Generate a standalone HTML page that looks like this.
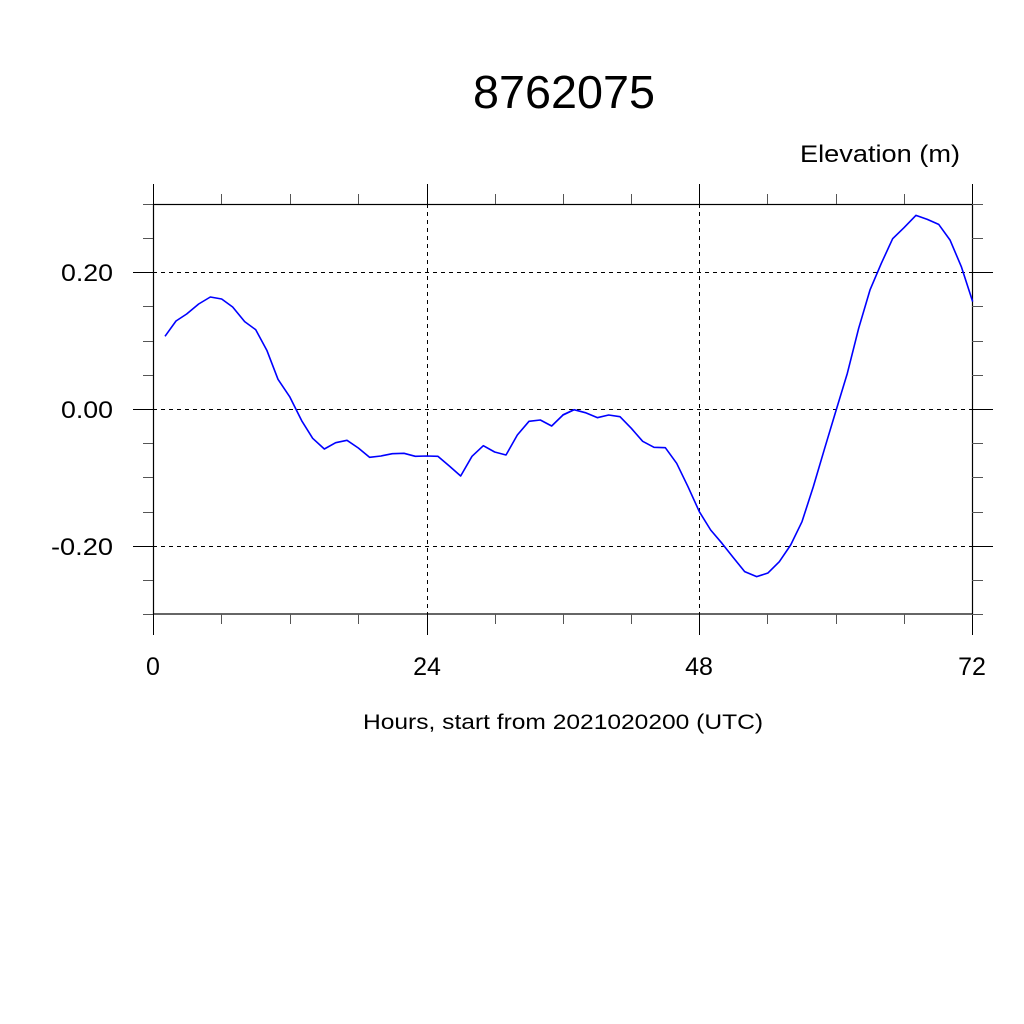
<!DOCTYPE html>
<html><head><meta charset="utf-8"><style>html,body{margin:0;padding:0;background:#fff}svg{display:block}</style></head>
<body>
<svg width="1024" height="1024" viewBox="0 0 1024 1024" xmlns="http://www.w3.org/2000/svg" font-family="Liberation Sans, Arial, sans-serif">
<rect width="1024" height="1024" fill="#fff"/>
<text x="564" y="108" font-size="46" text-anchor="middle" textLength="182" lengthAdjust="spacingAndGlyphs">8762075</text>
<text x="960" y="162" font-size="24" text-anchor="end" textLength="160" lengthAdjust="spacingAndGlyphs">Elevation (m)</text>
<!-- grid -->
<g stroke="#000" stroke-width="1" stroke-dasharray="4,4" fill="none">
<line x1="153" y1="272.5" x2="972" y2="272.5"/>
<line x1="153" y1="409.5" x2="972" y2="409.5"/>
<line x1="153" y1="546.5" x2="972" y2="546.5"/>
<line x1="427.5" y1="204" x2="427.5" y2="614"/>
<line x1="699.5" y1="204" x2="699.5" y2="614"/>
</g>
<!-- frame -->
<rect x="153.5" y="204.5" width="819" height="409.5" fill="none" stroke="#000" stroke-width="1.2"/>
<g stroke="#000" stroke-width="1">
<!-- major x ticks -->
<line x1="153.5" y1="184" x2="153.5" y2="204"/><line x1="427.5" y1="184" x2="427.5" y2="204"/><line x1="699.5" y1="184" x2="699.5" y2="204"/><line x1="972.5" y1="184" x2="972.5" y2="204"/>
<line x1="153.5" y1="614" x2="153.5" y2="635"/><line x1="427.5" y1="614" x2="427.5" y2="635"/><line x1="699.5" y1="614" x2="699.5" y2="635"/><line x1="972.5" y1="614" x2="972.5" y2="635"/>
<!-- minor x ticks -->
<g stroke="#555">
<line x1="221.5" y1="194" x2="221.5" y2="204"/><line x1="290.5" y1="194" x2="290.5" y2="204"/><line x1="358.5" y1="194" x2="358.5" y2="204"/>
<line x1="495.5" y1="194" x2="495.5" y2="204"/><line x1="563.5" y1="194" x2="563.5" y2="204"/><line x1="631.5" y1="194" x2="631.5" y2="204"/>
<line x1="767.5" y1="194" x2="767.5" y2="204"/><line x1="836.5" y1="194" x2="836.5" y2="204"/><line x1="904.5" y1="194" x2="904.5" y2="204"/>
<line x1="221.5" y1="614" x2="221.5" y2="624"/><line x1="290.5" y1="614" x2="290.5" y2="624"/><line x1="358.5" y1="614" x2="358.5" y2="624"/>
<line x1="495.5" y1="614" x2="495.5" y2="624"/><line x1="563.5" y1="614" x2="563.5" y2="624"/><line x1="631.5" y1="614" x2="631.5" y2="624"/>
<line x1="767.5" y1="614" x2="767.5" y2="624"/><line x1="836.5" y1="614" x2="836.5" y2="624"/><line x1="904.5" y1="614" x2="904.5" y2="624"/>
<!-- minor y ticks -->
<line x1="143" y1="204.5" x2="153" y2="204.5"/><line x1="143" y1="238.5" x2="153" y2="238.5"/><line x1="143" y1="306.5" x2="153" y2="306.5"/><line x1="143" y1="341.5" x2="153" y2="341.5"/><line x1="143" y1="375.5" x2="153" y2="375.5"/><line x1="143" y1="443.5" x2="153" y2="443.5"/><line x1="143" y1="477.5" x2="153" y2="477.5"/><line x1="143" y1="512.5" x2="153" y2="512.5"/><line x1="143" y1="580.5" x2="153" y2="580.5"/><line x1="143" y1="614.5" x2="153" y2="614.5"/>
<line x1="972" y1="204.5" x2="983" y2="204.5"/><line x1="972" y1="238.5" x2="983" y2="238.5"/><line x1="972" y1="306.5" x2="983" y2="306.5"/><line x1="972" y1="341.5" x2="983" y2="341.5"/><line x1="972" y1="375.5" x2="983" y2="375.5"/><line x1="972" y1="443.5" x2="983" y2="443.5"/><line x1="972" y1="477.5" x2="983" y2="477.5"/><line x1="972" y1="512.5" x2="983" y2="512.5"/><line x1="972" y1="580.5" x2="983" y2="580.5"/><line x1="972" y1="614.5" x2="983" y2="614.5"/>
</g>
<!-- major y ticks -->
<line x1="133" y1="272.5" x2="153" y2="272.5"/><line x1="133" y1="409.5" x2="153" y2="409.5"/><line x1="133" y1="546.5" x2="153" y2="546.5"/>
<line x1="972" y1="272.5" x2="993" y2="272.5"/><line x1="972" y1="409.5" x2="993" y2="409.5"/><line x1="972" y1="546.5" x2="993" y2="546.5"/>
</g>
<!-- y labels -->
<g font-size="24" text-anchor="end">
<text x="113" y="281" textLength="52" lengthAdjust="spacingAndGlyphs">0.20</text>
<text x="113" y="418" textLength="52" lengthAdjust="spacingAndGlyphs">0.00</text>
<text x="113" y="555" textLength="62" lengthAdjust="spacingAndGlyphs">-0.20</text>
</g>
<g font-size="25" text-anchor="middle">
<text x="153" y="675">0</text><text x="427" y="675">24</text><text x="699" y="675">48</text><text x="972" y="675">72</text>
</g>
<text x="563" y="729" font-size="21" text-anchor="middle" textLength="400" lengthAdjust="spacingAndGlyphs">Hours, start from 2021020200 (UTC)</text>
<!-- series -->
<g fill="none" stroke="#0000ff" stroke-width="1.6" stroke-linejoin="round">
<g transform="translate(140,180) scale(0.33333)">
<polyline vector-effect="non-scaling-stroke" points="75,469 108,423 140,402 176,372 211,351 245,357 278,381 314,425 347,449 381,512 414,598 449,650 485,722 518,775 553,807 587,788 621,781 655,804 689,832 723,828 757,821 792,820 826,829 860,828 894,829 928,858 962,888 996,829 1030,797 1064,816 1098,825 1132,765 1167,724 1201,720 1235,738 1269,705 1303,689"/>
</g>
<g transform="translate(560,180) scale(0.33333)">
<polyline vector-effect="non-scaling-stroke" points="8,705 42,689 76,698 112,713 146,705 180,710 214,745 248,784 282,802 316,803 350,850 384,920 418,995 452,1050 486,1090 520,1133 554,1175 590,1190 624,1179 658,1145 692,1095 726,1025 760,920 794,805 828,692 862,580 896,445 930,330 964,250 998,176 1032,143 1068,106 1102,118 1136,133 1170,180 1204,260 1238,365"/>
</g>
</g>
</svg>
</body></html>
